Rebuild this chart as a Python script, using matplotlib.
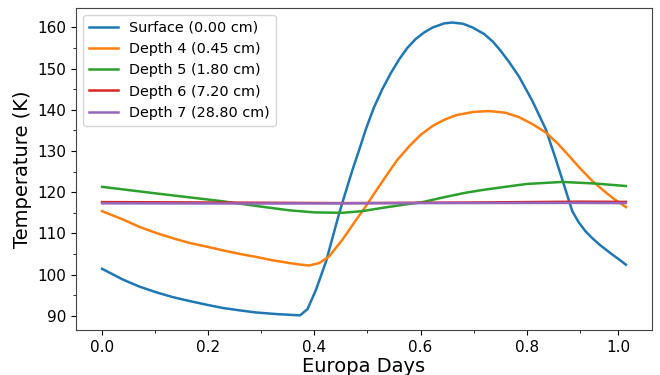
import numpy as np
import matplotlib
matplotlib.use("Agg")
import matplotlib.pyplot as plt
from matplotlib.ticker import AutoMinorLocator, FixedLocator

# values (Europa days, K)
surf_x = [0.0, 0.039, 0.07, 0.102, 0.134, 0.164, 0.2, 0.227, 0.26, 0.29, 0.33, 0.373,
          0.387, 0.403, 0.422, 0.447, 0.46, 0.472, 0.485, 0.497, 0.512, 0.528, 0.544,
          0.56, 0.575, 0.591, 0.607, 0.623, 0.645, 0.66, 0.68, 0.698, 0.72, 0.736,
          0.75, 0.767, 0.786, 0.811, 0.836, 0.855, 0.871, 0.886, 0.898, 0.911, 0.924,
          0.937, 0.95, 0.962, 0.975, 0.987]
surf_y = [101.4, 98.8, 97.1, 95.7, 94.5, 93.6, 92.6, 91.9, 91.3, 90.8, 90.4, 90.1,
          91.6, 96.3, 103.2, 115.0, 120.5, 125.5, 130.5, 135.3, 140.5, 145.0, 148.9,
          152.3, 155.0, 157.2, 158.8, 160.0, 161.0, 161.2, 160.9, 160.0, 158.4, 156.6,
          154.5, 151.6, 148.0, 142.1, 135.3, 128.0, 121.5, 115.4, 112.7, 110.5, 108.8,
          107.3, 106.0, 104.8, 103.6, 102.4]

d4_x = [0.0, 0.039, 0.07, 0.102, 0.134, 0.164, 0.2, 0.227, 0.26, 0.29, 0.32, 0.353,
        0.375, 0.39, 0.409, 0.427, 0.453, 0.475, 0.497, 0.516, 0.535, 0.556, 0.579,
        0.60, 0.623, 0.645, 0.667, 0.7, 0.729, 0.76, 0.786, 0.81, 0.836, 0.858, 0.88,
        0.9, 0.924, 0.944, 0.962, 0.987]
d4_y = [115.4, 113.4, 111.6, 110.1, 108.8, 107.7, 106.7, 105.9, 105.0, 104.3, 103.5,
        102.8, 102.4, 102.2, 102.8, 104.3, 108.5, 112.6, 116.6, 120.3, 123.9, 127.8,
        131.2, 133.9, 136.1, 137.6, 138.7, 139.5, 139.7, 139.3, 138.2, 136.6, 134.5,
        131.9, 128.8, 125.9, 122.7, 120.5, 118.6, 116.4]

d5_x = [0.0, 0.102, 0.227, 0.3, 0.353, 0.40, 0.453, 0.49, 0.528, 0.565, 0.604,
        0.645, 0.686, 0.72, 0.748, 0.8, 0.867, 0.93, 0.987]
d5_y = [121.3, 119.7, 117.8, 116.5, 115.6, 115.1, 115.0, 115.4, 116.2, 116.9, 117.6,
        118.8, 119.9, 120.6, 121.1, 122.0, 122.5, 122.1, 121.5]

d6_x = [0.0, 0.2, 0.45, 0.7, 0.9, 0.987]
d6_y = [117.6, 117.5, 117.35, 117.5, 117.7, 117.65]

d7_x = [0.0, 0.3, 0.6, 0.9, 0.987]
d7_y = [117.3, 117.25, 117.35, 117.4, 117.35]

labels = ["Surface (0.00 cm)", "Depth 4 (0.45 cm)", "Depth 5 (1.80 cm)",
          "Depth 6 (7.20 cm)", "Depth 7 (28.80 cm)"]

xtick_pos = [0.0, 0.2, 0.4, 0.6, 0.8, 0.972]
xtick_lab = ["0.0", "0.2", "0.4", "0.6", "0.8", "1.0"]
xminor_pos = [0.1, 0.3, 0.5, 0.7, 0.9]

fig, ax = plt.subplots(figsize=(6.6, 3.75), dpi=100)
fig.subplots_adjust(left=0.115, right=0.988, top=0.979, bottom=0.12)

series = [(surf_x, surf_y), (d4_x, d4_y), (d5_x, d5_y), (d6_x, d6_y), (d7_x, d7_y)]
for (xs, ys), lab in zip(series, labels):
    ax.plot(xs, ys, lw=1.8, label=lab)

ax.set_xticks(xtick_pos)
ax.set_xticklabels(xtick_lab)
ax.xaxis.set_minor_locator(FixedLocator(xminor_pos))
ax.yaxis.set_minor_locator(AutoMinorLocator(2))
ax.tick_params(labelsize=11)
for s in ax.spines.values():
    s.set_color("#444444")

ax.set_xlabel("Europa Days", fontsize=14, labelpad=2)
ax.set_ylabel("Temperature (K)", fontsize=14)
ax.legend(loc="upper left", fontsize=10.4)

fig.savefig("out.png", dpi=100)
